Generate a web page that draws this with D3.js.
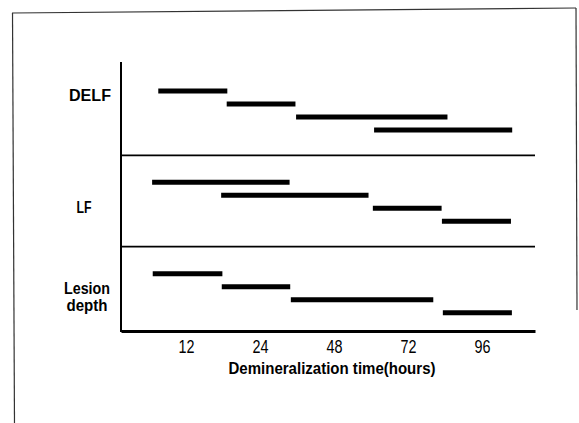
<!DOCTYPE html>
<html>
<head>
<meta charset="utf-8">
<script src="https://cdn.jsdelivr.net/npm/d3@7/dist/d3.min.js"></script>
<style>
  html, body { margin: 0; padding: 0; background: #fff; }
  svg { display: block; }
  text { font-family: "Liberation Sans", Arial, sans-serif; fill: #000; }
</style>
</head>
<body>
<svg id="chart" width="579" height="423"></svg>
<script>
// ---- data (time in hours) ----
const groups = ["DELF", "LF", "Lesion depth"];
const tickHours = [12, 24, 48, 72, 96];
const tickLabels = ["12", "24", "48", "72", "96"];
const delfStart = [7.5, 18.6, 35.7, 61.0];
const delfEnd   = [18.7, 35.5, 84.8, 105.8];
const lfStart   = [6.5, 17.7, 60.6, 83.0];
const lfEnd     = [33.6, 59.2, 82.9, 105.4];
const lesionStart = [6.6, 17.8, 34.0, 83.3];
const lesionEnd   = [17.9, 33.8, 80.2, 105.7];
const xTitle = "Demineralization time(hours)";

const seriesStart = [delfStart, lfStart, lesionStart];
const seriesEnd = [delfEnd, lfEnd, lesionEnd];

const svg = d3.select("#chart");

// outer frame (scanned figure border)
const frame = svg.append("g").attr("stroke", "#333").attr("stroke-width", 1.2).attr("fill", "none");
frame.append("line").attr("x1", 12).attr("y1", 13).attr("x2", 576).attr("y2", 8);
frame.append("line").attr("x1", 12.5).attr("y1", 13).attr("x2", 14.5).attr("y2", 423);
frame.append("line").attr("x1", 576).attr("y1", 8).attr("x2", 577).attr("y2", 310);

// scales: categorical time axis (equally spaced ticks)
const axisLeft = 121, axisRight = 535, axisTop = 62, axisBottom = 331;
const x = d3.scaleLinear()
  .domain([1.45, 12, 24, 48, 72, 96, 113.2])
  .range([axisLeft, 186, 260, 334, 408, 482, axisRight]);

const yGroup = d3.scaleBand().domain(groups).range([64, 338]).paddingInner(0).paddingOuter(0);
const yRow = d3.scalePoint().domain([0, 1, 2, 3]).range([27, 66]);

// label placement within each band (layout)
const labelDy = { "DELF": 31, "LF": 52, "Lesion depth": 50 };
const labelX = { "DELF": 90, "LF": 84, "Lesion depth": 87 };

// x axis
const xAxis = d3.axisBottom(x).tickValues(tickHours).tickFormat((d, i) => tickLabels[i]).tickSize(0).tickPadding(10);
const gx = svg.append("g").attr("transform", `translate(0,${axisBottom})`).call(xAxis)
  .attr("font-family", "Liberation Sans, Arial, sans-serif");
gx.select(".domain").attr("stroke", "#000").attr("stroke-width", 2.8);
gx.selectAll(".tick text").attr("font-size", 18).attr("dy", "0.66em")
  .attr("textLength", 16).attr("lengthAdjust", "spacingAndGlyphs");

// y axis line
svg.append("line").attr("x1", axisLeft).attr("x2", axisLeft).attr("y1", axisTop).attr("y2", axisBottom + 1)
  .attr("stroke", "#000").attr("stroke-width", 2);

// separators between groups
svg.append("g").selectAll("line").data(groups.slice(1)).join("line")
  .attr("x1", axisLeft).attr("x2", axisRight)
  .attr("y1", d => yGroup(d)).attr("y2", d => yGroup(d))
  .attr("stroke", "#000").attr("stroke-width", 1.6);

// bars
groups.forEach((g, gi) => {
  const rows = seriesStart[gi].map((s, i) => ({ s, e: seriesEnd[gi][i], i }));
  svg.append("g").selectAll("line").data(rows).join("line")
    .attr("x1", d => x(d.s)).attr("x2", d => x(d.e))
    .attr("y1", d => yGroup(g) + yRow(d.i)).attr("y2", d => yGroup(g) + yRow(d.i))
    .attr("stroke", "#000").attr("stroke-width", 5);
});

// group labels
const wordWidth = { "DELF": 42, "LF": 15, "Lesion": 46, "depth": 41 };
groups.forEach(g => {
  const words = g === "Lesion depth" ? ["Lesion", "depth"] : [g];
  const cy = yGroup(g) + labelDy[g];
  words.forEach((w, i) => {
    svg.append("text")
      .attr("x", labelX[g]).attr("text-anchor", "middle")
      .attr("font-size", 16).attr("font-weight", "bold")
      .attr("y", cy + (i - (words.length - 1) / 2) * 17)
      .attr("dy", "0.35em")
      .attr("textLength", wordWidth[w]).attr("lengthAdjust", "spacingAndGlyphs")
      .text(w);
  });
});

// x title
svg.append("text").attr("x", 332).attr("y", 368)
  .attr("text-anchor", "middle").attr("font-size", 17).attr("font-weight", "bold")
  .attr("dy", "0.35em")
  .attr("textLength", 207).attr("lengthAdjust", "spacingAndGlyphs")
  .text(xTitle);
</script>
</body>
</html>
